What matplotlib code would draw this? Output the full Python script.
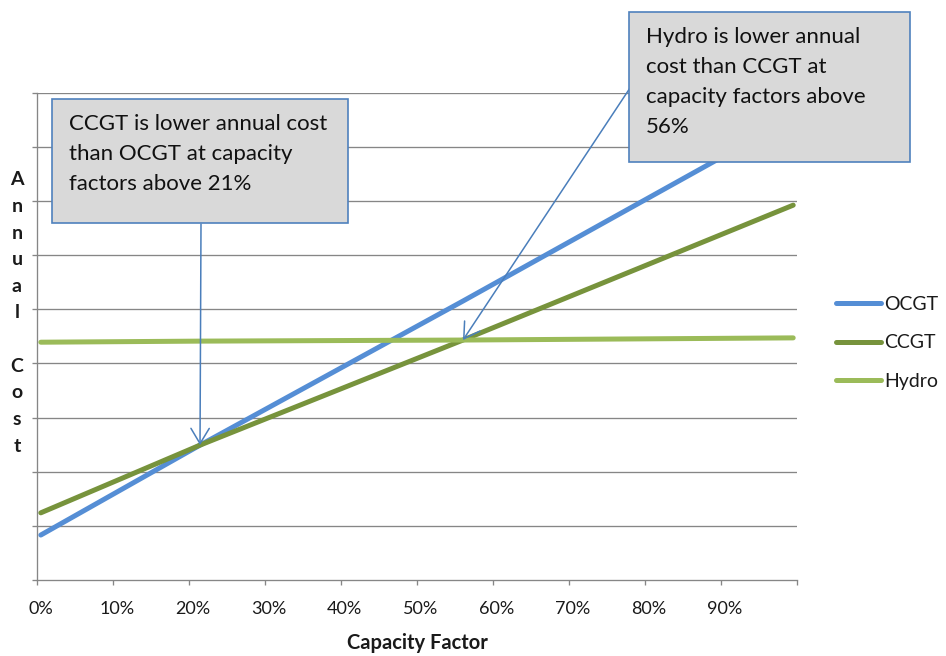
import matplotlib
matplotlib.use("Agg")
import matplotlib.pyplot as plt
from matplotlib.patches import Rectangle

plt.rcParams['font.family'] = ['Lato', 'DejaVu Sans']

# ---- data (y in gridline units) ----
capacity_factor = [0.005, 0.2145, 0.5605, 0.995]
ocgt = [0.83, 2.49, 5.15, 8.54]
ccgt = [1.24, 2.49, 4.43, 6.92]
hydro = [4.39, 4.41, 4.43, 4.47]
series_names = ["OCGT", "CCGT", "Hydro"]
series_colors = ["#558ED5", "#77933C", "#9BBB59"]
x_tick_labels = ["0%", "10%", "20%", "30%", "40%", "50%", "60%", "70%", "80%", "90%"]
note1 = "CCGT is lower annual cost\nthan OCGT at capacity\nfactors above 21%"
note2 = "Hydro is lower annual\ncost than CCGT at\ncapacity factors above\n56%"
cross1 = (0.2145, 2.49)
cross2 = (0.5605, 4.43)

W, H = 946, 656
fig = plt.figure(figsize=(W / 100, H / 100), dpi=100)
fig.patch.set_facecolor("white")

def fx(px):
    return px / W

def fy(py):
    return 1 - py / H

ax = fig.add_axes([fx(37), fy(580), fx(797) - fx(37), (580 - 92.5) / H])
ax.set_xlim(0, 1)
ax.set_ylim(0, 9)

grid_c = "#868686"
for y in range(1, 10):
    ax.axhline(y, color=grid_c, lw=0.95, zorder=1)

for vals, name, col in zip([ocgt, ccgt, hydro], series_names, series_colors):
    ax.plot(capacity_factor, vals, color=col, lw=3.6, label=name,
            solid_capstyle='round', zorder=3)

for s in ["top", "right"]:
    ax.spines[s].set_visible(False)
for s in ["left", "bottom"]:
    ax.spines[s].set_color(grid_c)
    ax.spines[s].set_linewidth(0.95)

ax.set_yticks(range(0, 10))
ax.set_yticklabels([])
ax.tick_params(axis='y', length=3.8, width=0.95, color=grid_c, direction='out')

ax.set_xticks([i / 10 for i in range(11)])
ax.set_xticklabels([])
ax.tick_params(axis='x', which='major', length=3.8, width=0.95, color=grid_c, direction='out')
ax.set_xticks([i / 10 + 0.005 for i in range(10)], minor=True)
ax.set_xticklabels(x_tick_labels, minor=True, fontsize=13, color="#1a1a1a")
ax.tick_params(axis='x', which='minor', length=0, pad=15)

fig.text(fx(417), fy(643), "Capacity Factor", ha='center', va='center',
         fontsize=14.5, fontweight='bold', color="#1a1a1a")
fig.text(fx(17), fy(313), "A\nn\nn\nu\na\nl\n\nC\no\ns\nt", ha='center', va='center',
         fontsize=14, fontweight='bold', color="#1a1a1a", linespacing=1.69)

leg = ax.legend(loc='center left', bbox_to_anchor=(fx(836), fy(343)),
                bbox_transform=fig.transFigure, frameon=False, fontsize=14,
                handlelength=2.3, handletextpad=0.2, labelspacing=1.1,
                borderpad=0, borderaxespad=0)
for t in leg.get_texts():
    t.set_color("#1a1a1a")

box_fc = "#D9D9D9"
box_ec = "#4F81BD"
arrow_c = "#4A7EBB"

# arrows
ax.annotate("", xy=cross1, xycoords='data', xytext=(201, H - 224),
            textcoords='figure pixels', zorder=5,
            arrowprops=dict(arrowstyle='->,head_length=0.55,head_width=0.33',
                            color=arrow_c, lw=1.1, mutation_scale=20,
                            shrinkA=0, shrinkB=0))
ax.annotate("", xy=cross2, xycoords='data', xytext=(630, H - 88),
            textcoords='figure pixels', zorder=5,
            arrowprops=dict(arrowstyle='->,head_length=0.55,head_width=0.33',
                            color=arrow_c, lw=1.1, mutation_scale=20,
                            shrinkA=0, shrinkB=0))

# boxes
for (x0, y0, x1, y1), txt in [((52, 99, 348, 223), note1), ((629, 12, 910, 162), note2)]:
    r = Rectangle((fx(x0), fy(y1)), fx(x1) - fx(x0), fy(y0) - fy(y1),
                  transform=fig.transFigure, facecolor=box_fc, edgecolor=box_ec,
                  lw=1.2, zorder=10)
    fig.patches.append(r)
    fig.text(fx(x0 + 17), fy(y0 + 15), txt, ha='left', va='top', fontsize=16,
             color="#111111", linespacing=1.62, zorder=11)

fig.savefig("out.png", dpi=100, facecolor="white")
